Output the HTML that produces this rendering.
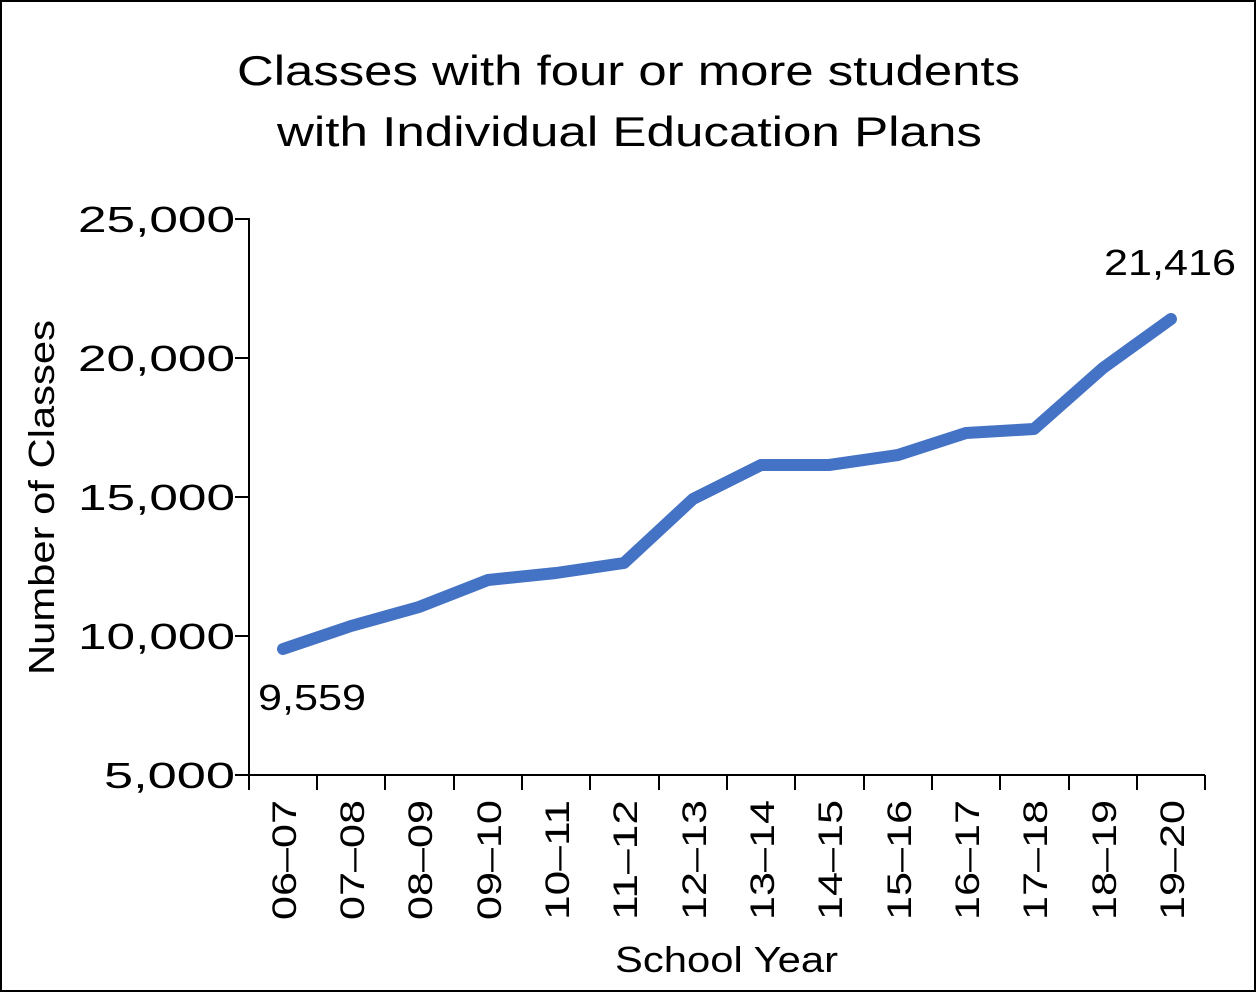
<!DOCTYPE html>
<html><head><style>
body{margin:0;background:#fff}
svg{display:block}
text{font-family:"Liberation Sans",sans-serif;fill:#000}
</style></head><body>
<svg width="1256" height="992" viewBox="0 0 1256 992" xmlns="http://www.w3.org/2000/svg">
<rect x="1" y="1" width="1254" height="990" fill="#fff" stroke="#000" stroke-width="2"/>
<text x="237" y="85" font-size="42" textLength="783" lengthAdjust="spacingAndGlyphs">Classes with four or more students</text>
<text x="277" y="146" font-size="42" textLength="705" lengthAdjust="spacingAndGlyphs">with Individual Education Plans</text>
<g stroke="#000" stroke-width="2">
<line x1="249" y1="218" x2="249" y2="776"/>
<line x1="248" y1="775" x2="1205" y2="775"/>
<line x1="235" y1="219" x2="249" y2="219"/>
<line x1="235" y1="358" x2="249" y2="358"/>
<line x1="235" y1="497" x2="249" y2="497"/>
<line x1="235" y1="636" x2="249" y2="636"/>
<line x1="235" y1="775" x2="249" y2="775"/>
<line x1="249" y1="775" x2="249" y2="790"/><line x1="317" y1="775" x2="317" y2="790"/><line x1="385" y1="775" x2="385" y2="790"/><line x1="454" y1="775" x2="454" y2="790"/><line x1="522" y1="775" x2="522" y2="790"/><line x1="590" y1="775" x2="590" y2="790"/><line x1="659" y1="775" x2="659" y2="790"/><line x1="727" y1="775" x2="727" y2="790"/><line x1="795" y1="775" x2="795" y2="790"/><line x1="864" y1="775" x2="864" y2="790"/><line x1="932" y1="775" x2="932" y2="790"/><line x1="1000" y1="775" x2="1000" y2="790"/><line x1="1069" y1="775" x2="1069" y2="790"/><line x1="1137" y1="775" x2="1137" y2="790"/><line x1="1205" y1="775" x2="1205" y2="790"/>
</g>
<g font-size="36">
<text x="78" y="232" textLength="157" lengthAdjust="spacingAndGlyphs">25,000</text>
<text x="78" y="371" textLength="157" lengthAdjust="spacingAndGlyphs">20,000</text>
<text x="78" y="510" textLength="157" lengthAdjust="spacingAndGlyphs">15,000</text>
<text x="78" y="649" textLength="157" lengthAdjust="spacingAndGlyphs">10,000</text>
<text x="104" y="788" textLength="131" lengthAdjust="spacingAndGlyphs">5,000</text>
</g>
<text transform="translate(54,675) rotate(-90)" font-size="36" textLength="355" lengthAdjust="spacingAndGlyphs">Number of Classes</text>
<g font-size="34">
<text transform="translate(296,920) rotate(-90)" textLength="120" lengthAdjust="spacingAndGlyphs">06–07</text>
<text transform="translate(364,920) rotate(-90)" textLength="120" lengthAdjust="spacingAndGlyphs">07–08</text>
<text transform="translate(432,920) rotate(-90)" textLength="120" lengthAdjust="spacingAndGlyphs">08–09</text>
<text transform="translate(501,920) rotate(-90)" textLength="120" lengthAdjust="spacingAndGlyphs">09–10</text>
<text transform="translate(569,920) rotate(-90)" textLength="120" lengthAdjust="spacingAndGlyphs">10–11</text>
<text transform="translate(637,920) rotate(-90)" textLength="120" lengthAdjust="spacingAndGlyphs">11–12</text>
<text transform="translate(706,920) rotate(-90)" textLength="120" lengthAdjust="spacingAndGlyphs">12–13</text>
<text transform="translate(774,920) rotate(-90)" textLength="120" lengthAdjust="spacingAndGlyphs">13–14</text>
<text transform="translate(842,920) rotate(-90)" textLength="120" lengthAdjust="spacingAndGlyphs">14–15</text>
<text transform="translate(911,920) rotate(-90)" textLength="120" lengthAdjust="spacingAndGlyphs">15–16</text>
<text transform="translate(979,920) rotate(-90)" textLength="120" lengthAdjust="spacingAndGlyphs">16–17</text>
<text transform="translate(1047,920) rotate(-90)" textLength="120" lengthAdjust="spacingAndGlyphs">17–18</text>
<text transform="translate(1116,920) rotate(-90)" textLength="120" lengthAdjust="spacingAndGlyphs">18–19</text>
<text transform="translate(1184,920) rotate(-90)" textLength="120" lengthAdjust="spacingAndGlyphs">19–20</text>
</g>
<text x="615" y="972" font-size="36" textLength="223" lengthAdjust="spacingAndGlyphs">School Year</text>
<polyline fill="none" stroke="#4472C4" stroke-width="12" stroke-linejoin="round" stroke-linecap="round"
points="283,649 351,626 419,607 488,580 556,573 624,563 693,499 761,465 829,465 898,455 966,433 1034,429 1103,368 1171,319"/>
<text x="258" y="710" font-size="36" textLength="108" lengthAdjust="spacingAndGlyphs">9,559</text>
<text x="1104" y="275" font-size="36" textLength="132" lengthAdjust="spacingAndGlyphs">21,416</text>
</svg>
</body></html>
